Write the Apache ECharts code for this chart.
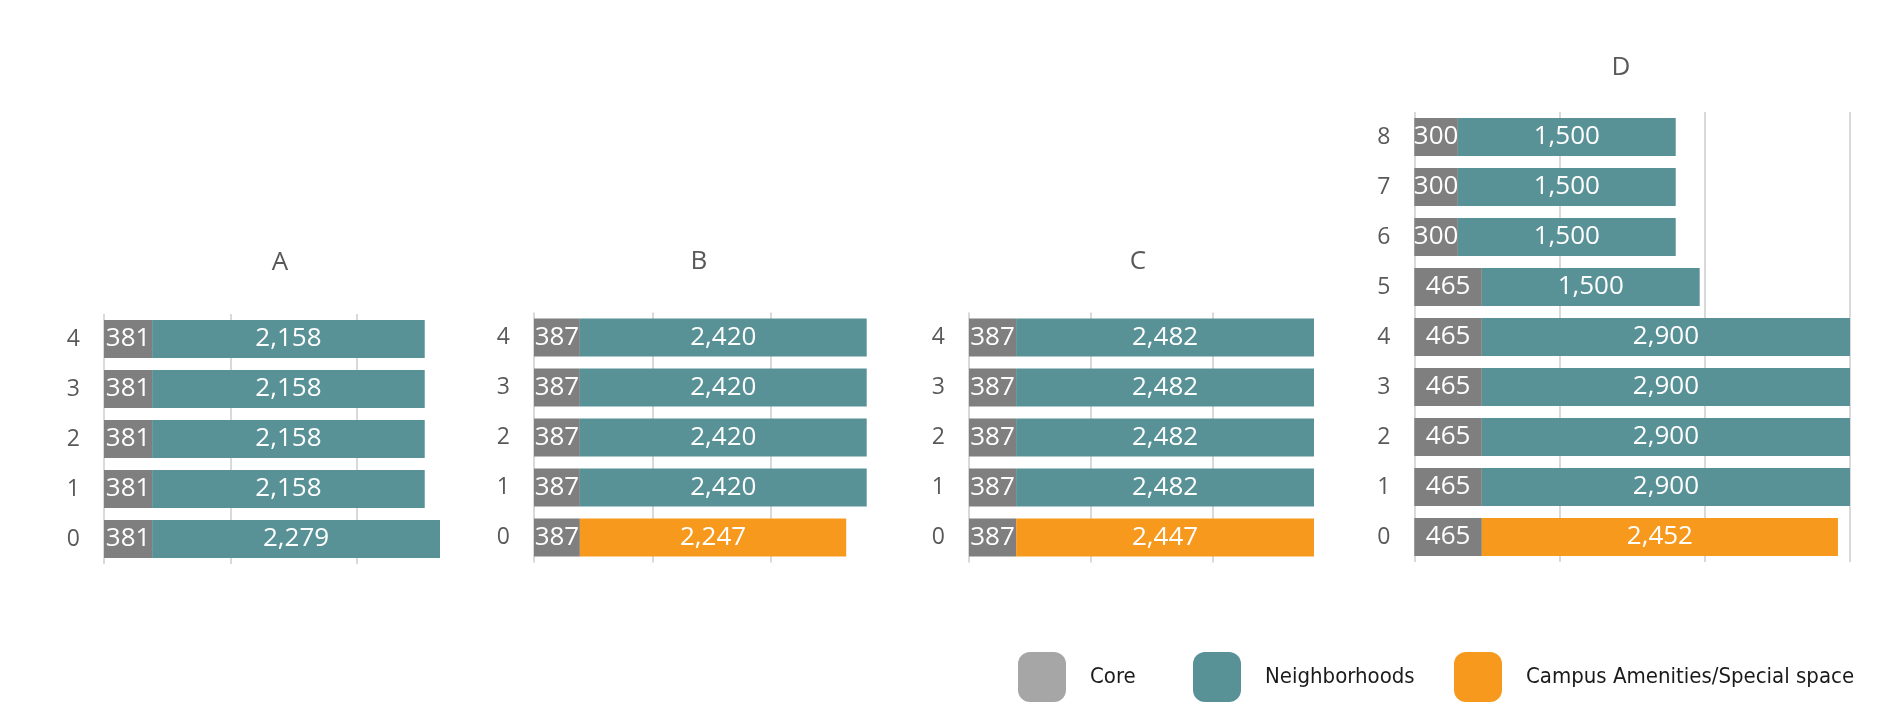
<!DOCTYPE html>
<html>
<head>
<meta charset="utf-8">
<script src="https://cdn.jsdelivr.net/npm/echarts@6/dist/echarts.min.js"></script>
<style>
html,body{margin:0;padding:0;background:#fff;}
#chart{width:1897px;height:724px;}
</style>
</head>
<body>
<div id="chart"></div>
<script>
// ---- data ----
const panelTitles = ['A', 'B', 'C', 'D'];
const seriesNames = ['Core', 'Neighborhoods', 'Campus Amenities/Special space'];

const catsA = ['0', '1', '2', '3', '4'];
const coreA = [381, 381, 381, 381, 381];
const neighA = [2279, 2158, 2158, 2158, 2158];
const campusA = [null, null, null, null, null];

const catsB = ['0', '1', '2', '3', '4'];
const coreB = [387, 387, 387, 387, 387];
const neighB = [null, 2420, 2420, 2420, 2420];
const campusB = [2247, null, null, null, null];

const catsC = ['0', '1', '2', '3', '4'];
const coreC = [387, 387, 387, 387, 387];
const neighC = [null, 2482, 2482, 2482, 2482];
const campusC = [2447, null, null, null, null];

const catsD = ['0', '1', '2', '3', '4', '5', '6', '7', '8'];
const coreD = [465, 465, 465, 465, 465, 465, 300, 300, 300];
const neighD = [null, 2900, 2900, 2900, 2900, 1500, 1500, 1500, 1500];
const campusD = [2452, null, null, null, null, null, null, null, null];

const axisMax = [2660, 2807, 2834, 3000];

// ---- styling / layout ----
const colors = ['#7f7f7f', '#589196', '#f7991d'];
const legendColors = ['#a6a6a6', '#589196', '#f7991d'];
const FONT = "'Open Sans', sans-serif";
const LEGFONT = "'DejaVu Sans Condensed', 'DejaVu Sans', sans-serif";

const panels = [
  {cats: catsA, vals: [coreA, neighA, campusA]},
  {cats: catsB, vals: [coreB, neighB, campusB]},
  {cats: catsC, vals: [coreC, neighC, campusC]},
  {cats: catsD, vals: [coreD, neighD, campusD]}
];
const gridPos = [
  {left: 104, top: 314, width: 336, height: 250},
  {left: 534, top: 312.5, width: 332.7, height: 250},
  {left: 969, top: 312.5, width: 345, height: 250},
  {left: 1414.3, top: 112, width: 435.7, height: 450}
];
const titlePos = [
  {x: 280, y: 265},
  {x: 699, y: 264},
  {x: 1138, y: 264},
  {x: 1621, y: 70}
];

const fmt = v => Number(v).toLocaleString('en-US');

const grid = [], xAxis = [], yAxis = [], series = [], title = [];
panels.forEach((p, i) => {
  grid.push(Object.assign({containLabel: false}, gridPos[i]));
  xAxis.push({
    type: 'value', gridIndex: i, min: 0, max: axisMax[i], interval: 1000,
    axisLabel: {show: false}, axisTick: {show: false}, axisLine: {show: false},
    splitLine: {show: true, showMinLine: true, showMaxLine: i === 3,
      lineStyle: {color: '#d9d9d9', width: 2}}
  });
  yAxis.push({
    type: 'category', gridIndex: i, data: p.cats,
    axisLine: {show: false}, axisTick: {show: false},
    axisLabel: {color: '#595959', fontSize: 23, fontFamily: FONT, margin: 24}
  });
  title.push({
    text: panelTitles[i], left: titlePos[i].x, top: titlePos[i].y - 15,
    textAlign: 'center', padding: 0,
    textStyle: {color: '#595959', fontSize: 26, fontWeight: 'normal', fontFamily: FONT}
  });
  seriesNames.forEach((name, k) => {
    series.push({
      type: 'bar', name: name, xAxisIndex: i, yAxisIndex: i,
      stack: 'p' + i, data: p.vals[k], barWidth: 38,
      itemStyle: {color: colors[k]},
      label: {show: true, position: 'inside', color: '#fff', fontSize: 26,
        fontFamily: FONT, formatter: d => fmt(d.value)},
      emphasis: {disabled: true},
      animation: false
    });
  });
});

const legendLefts = [1018, 1193, 1454];
const legend = seriesNames.map((name, k) => ({
  left: legendLefts[k], top: 652, padding: 0,
  itemWidth: 48, itemHeight: 50, icon: 'roundRect',
  selectedMode: false,
  data: [{name: name, itemStyle: {color: legendColors[k]}}],
  textStyle: {color: '#1a1a1a', fontSize: 22, fontFamily: LEGFONT, padding: [0, 0, 0, 19]}
}));

const chart = echarts.init(document.getElementById('chart'));
chart.setOption({
  backgroundColor: '#fff',
  animation: false,
  title, grid, xAxis, yAxis, series, legend
});
</script>
</body>
</html>
